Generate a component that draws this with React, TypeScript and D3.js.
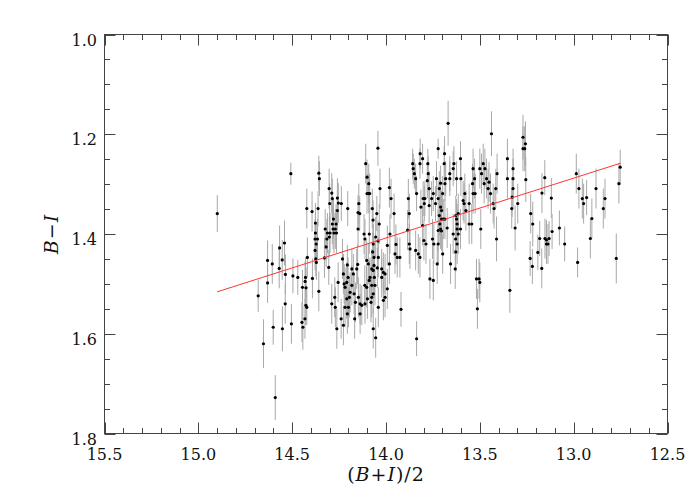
import React from "react";
import * as d3 from "d3";

// [ (B+I)/2 , B-I , error ]
const stars: [number, number, number][] = [
  [14.899, 1.359, 0.037], [14.653, 1.62, 0.049], [14.59, 1.728, 0.045], [14.681, 1.524, 0.032],
  [14.601, 1.587, 0.035], [14.631, 1.453, 0.04], [14.631, 1.498, 0.04], [14.606, 1.46, 0.04],
  [14.567, 1.428, 0.045], [14.569, 1.469, 0.04], [14.553, 1.452, 0.04], [14.541, 1.418, 0.045],
  [14.536, 1.481, 0.04], [14.496, 1.484, 0.035], [14.47, 1.487, 0.035], [14.419, 1.447, 0.04],
  [14.374, 1.45, 0.035], [14.371, 1.457, 0.035], [14.328, 1.448, 0.04], [14.305, 1.467, 0.035],
  [14.429, 1.487, 0.04], [14.431, 1.495, 0.04], [14.426, 1.508, 0.04], [14.445, 1.507, 0.035],
  [14.427, 1.543, 0.04], [14.422, 1.547, 0.035], [14.432, 1.57, 0.04], [14.448, 1.577, 0.04],
  [14.443, 1.587, 0.045], [14.392, 1.489, 0.04], [14.358, 1.515, 0.04], [14.537, 1.54, 0.04],
  [14.504, 1.58, 0.04], [14.552, 1.59, 0.045],
  [14.507, 1.279, 0.022], [14.358, 1.278, 0.035], [14.355, 1.289, 0.035], [14.108, 1.259, 0.04],
  [14.043, 1.228, 0.035],
  [14.101, 1.286, 0.035], [14.303, 1.309, 0.04], [14.289, 1.318, 0.04], [14.3, 1.339, 0.04],
  [14.286, 1.329, 0.04], [14.254, 1.338, 0.04], [14.238, 1.339, 0.035], [14.259, 1.328, 0.04],
  [14.422, 1.349, 0.04], [14.394, 1.355, 0.04], [14.362, 1.349, 0.035], [14.204, 1.349, 0.035],
  [14.145, 1.339, 0.04], [14.149, 1.357, 0.035], [14.14, 1.359, 0.035], [14.101, 1.319, 0.04],
  [14.092, 1.319, 0.04], [14.087, 1.319, 0.04], [14.092, 1.299, 0.04], [14.069, 1.372, 0.04],
  [14.049, 1.359, 0.035], [14.376, 1.378, 0.04], [14.376, 1.398, 0.04], [14.378, 1.41, 0.04],
  [14.365, 1.41, 0.04], [14.372, 1.42, 0.04], [14.378, 1.433, 0.04], [14.324, 1.39, 0.04],
  [14.312, 1.398, 0.04], [14.298, 1.398, 0.04], [14.315, 1.41, 0.04], [14.319, 1.426, 0.04],
  [14.302, 1.406, 0.04], [14.286, 1.38, 0.04], [14.266, 1.38, 0.04], [14.282, 1.39, 0.04],
  [14.27, 1.39, 0.04], [14.264, 1.398, 0.04], [14.277, 1.398, 0.04], [14.28, 1.37, 0.04],
  [14.259, 1.353, 0.04], [14.149, 1.39, 0.035], [14.117, 1.4, 0.04], [14.112, 1.41, 0.04],
  [14.089, 1.4, 0.04], [14.068, 1.42, 0.04], [14.043, 1.414, 0.04], [14.289, 1.54, 0.04],
  [14.273, 1.527, 0.04], [14.27, 1.547, 0.04], [14.255, 1.497, 0.04], [14.239, 1.57, 0.04],
  [14.227, 1.583, 0.04], [14.262, 1.59, 0.04], [14.232, 1.45, 0.04], [14.227, 1.48, 0.04],
  [14.223, 1.5, 0.04], [14.218, 1.507, 0.04], [14.209, 1.53, 0.04], [14.2, 1.547, 0.04],
  [14.206, 1.56, 0.04], [14.218, 1.547, 0.04], [14.206, 1.462, 0.04], [14.182, 1.47, 0.04],
  [14.174, 1.48, 0.04], [14.156, 1.47, 0.04], [14.151, 1.461, 0.04], [14.202, 1.487, 0.04],
  [14.209, 1.497, 0.04], [14.182, 1.503, 0.04], [14.191, 1.517, 0.04], [14.195, 1.527, 0.04],
  [14.17, 1.52, 0.04], [14.163, 1.537, 0.04], [14.147, 1.527, 0.04], [14.138, 1.54, 0.04],
  [14.167, 1.57, 0.04], [14.138, 1.56, 0.04], [14.129, 1.543, 0.04], [14.112, 1.54, 0.04],
  [14.099, 1.53, 0.04], [14.103, 1.507, 0.04], [14.113, 1.503, 0.04], [14.089, 1.493, 0.04],
  [14.076, 1.503, 0.04], [14.085, 1.487, 0.04], [14.068, 1.473, 0.04], [14.064, 1.463, 0.04],
  [14.046, 1.468, 0.04], [14.041, 1.447, 0.04], [14.094, 1.46, 0.04], [14.103, 1.453, 0.04],
  [14.064, 1.447, 0.04], [14.071, 1.436, 0.04], [14.068, 1.52, 0.04], [14.076, 1.527, 0.04],
  [14.068, 1.59, 0.04], [14.055, 1.608, 0.04],
  [13.669, 1.178, 0.045], [13.438, 1.199, 0.045], [13.722, 1.229, 0.02], [13.818, 1.239, 0.03],
  [13.805, 1.249, 0.03], [13.819, 1.259, 0.03], [13.858, 1.259, 0.03], [13.855, 1.269, 0.03],
  [13.849, 1.279, 0.03], [13.842, 1.289, 0.03], [13.777, 1.259, 0.03], [13.775, 1.279, 0.035],
  [13.77, 1.309, 0.035], [13.78, 1.293, 0.035], [13.688, 1.239, 0.035], [13.69, 1.259, 0.035],
  [13.682, 1.289, 0.035], [13.66, 1.279, 0.035], [13.66, 1.289, 0.035], [13.638, 1.259, 0.035],
  [13.642, 1.269, 0.035], [13.624, 1.289, 0.035], [13.601, 1.289, 0.035], [13.603, 1.249, 0.035],
  [13.686, 1.299, 0.035], [13.709, 1.298, 0.035], [13.731, 1.289, 0.035], [13.716, 1.309, 0.035],
  [13.698, 1.319, 0.035], [13.748, 1.319, 0.035], [13.722, 1.329, 0.035], [13.736, 1.339, 0.035],
  [13.709, 1.346, 0.035], [13.802, 1.329, 0.035], [13.793, 1.329, 0.035], [13.837, 1.319, 0.035],
  [13.796, 1.339, 0.035], [13.814, 1.346, 0.035], [13.77, 1.343, 0.035], [13.757, 1.329, 0.035],
  [13.881, 1.329, 0.04], [13.876, 1.359, 0.04], [13.885, 1.392, 0.04], [13.876, 1.42, 0.04],
  [13.872, 1.43, 0.04], [13.842, 1.433, 0.04], [13.828, 1.44, 0.04], [13.819, 1.447, 0.04],
  [13.805, 1.383, 0.04], [13.798, 1.413, 0.04], [13.787, 1.42, 0.04], [13.752, 1.41, 0.04],
  [13.745, 1.42, 0.04], [13.722, 1.42, 0.04], [13.698, 1.44, 0.04], [13.727, 1.46, 0.04],
  [13.766, 1.49, 0.04], [13.748, 1.493, 0.04], [13.704, 1.37, 0.04], [13.695, 1.37, 0.04],
  [13.686, 1.37, 0.04], [13.709, 1.39, 0.04], [13.722, 1.393, 0.04], [13.704, 1.394, 0.04],
  [13.674, 1.388, 0.04], [13.713, 1.38, 0.04], [13.704, 1.353, 0.04], [13.716, 1.363, 0.04],
  [13.656, 1.46, 0.04], [13.631, 1.47, 0.04], [13.628, 1.436, 0.04], [13.621, 1.42, 0.04],
  [13.629, 1.41, 0.04], [13.642, 1.4, 0.04], [13.621, 1.38, 0.04], [13.628, 1.363, 0.04],
  [13.615, 1.359, 0.04], [13.621, 1.39, 0.04], [13.603, 1.39, 0.04], [13.615, 1.4, 0.04],
  [13.624, 1.37, 0.04], [13.589, 1.333, 0.04], [13.584, 1.339, 0.04], [13.58, 1.319, 0.04],
  [13.557, 1.339, 0.04], [13.557, 1.38, 0.04], [13.543, 1.38, 0.04], [13.574, 1.353, 0.04],
  [13.536, 1.319, 0.04], [13.525, 1.319, 0.04], [13.539, 1.299, 0.04], [13.528, 1.289, 0.04],
  [13.536, 1.269, 0.04], [13.495, 1.39, 0.04], [13.5, 1.269, 0.04], [13.491, 1.279, 0.04],
  [13.482, 1.259, 0.04], [13.473, 1.269, 0.04], [13.464, 1.289, 0.04], [13.477, 1.299, 0.04],
  [13.456, 1.309, 0.04], [13.451, 1.296, 0.04], [13.443, 1.319, 0.04], [13.415, 1.309, 0.04],
  [13.408, 1.279, 0.04], [13.429, 1.339, 0.04], [13.424, 1.349, 0.04], [13.411, 1.41, 0.045],
  [13.353, 1.249, 0.04], [13.353, 1.289, 0.04], [13.323, 1.269, 0.04], [13.323, 1.289, 0.04],
  [13.323, 1.309, 0.04], [13.328, 1.326, 0.04], [13.33, 1.349, 0.04], [13.298, 1.339, 0.04],
  [13.312, 1.388, 0.045], [13.518, 1.49, 0.04], [13.504, 1.49, 0.04], [13.5, 1.497, 0.04],
  [13.513, 1.55, 0.04], [13.34, 1.513, 0.045], [13.92, 1.551, 0.035], [13.837, 1.61, 0.035],
  [14.032, 1.309, 0.04], [13.973, 1.329, 0.04], [13.957, 1.359, 0.04], [13.982, 1.307, 0.04],
  [14.073, 1.349, 0.04], [14.036, 1.38, 0.04], [14.055, 1.406, 0.04], [13.993, 1.423, 0.04],
  [13.979, 1.4, 0.04], [13.947, 1.421, 0.04], [13.952, 1.44, 0.04], [13.94, 1.447, 0.04],
  [13.926, 1.447, 0.04], [13.982, 1.46, 0.04], [13.993, 1.51, 0.04], [14.005, 1.527, 0.04],
  [14.014, 1.533, 0.04], [14.041, 1.547, 0.04], [14.08, 1.537, 0.04], [14.059, 1.503, 0.04],
  [14.076, 1.47, 0.04], [14.023, 1.47, 0.04], [14.014, 1.477, 0.04], [14.005, 1.48, 0.04],
  [14.023, 1.487, 0.04], [14.062, 1.487, 0.04],
  [13.27, 1.206, 0.045], [13.27, 1.229, 0.045], [13.261, 1.229, 0.045], [13.257, 1.219, 0.045],
  [13.255, 1.291, 0.045], [13.229, 1.359, 0.04], [13.218, 1.38, 0.045], [13.232, 1.449, 0.035],
  [13.22, 1.465, 0.035], [13.169, 1.318, 0.04], [13.154, 1.287, 0.035], [13.119, 1.328, 0.04],
  [13.115, 1.395, 0.035], [13.191, 1.437, 0.035], [13.181, 1.409, 0.035], [13.17, 1.469, 0.04],
  [13.153, 1.409, 0.04], [13.145, 1.412, 0.04], [13.145, 1.42, 0.04], [13.137, 1.42, 0.04],
  [13.131, 1.409, 0.035], [13.076, 1.388, 0.035], [13.048, 1.42, 0.035], [12.986, 1.279, 0.04],
  [12.979, 1.457, 0.03], [12.972, 1.309, 0.04], [12.954, 1.329, 0.04], [12.947, 1.339, 0.04],
  [12.931, 1.327, 0.035], [12.881, 1.309, 0.04], [12.903, 1.369, 0.04], [12.911, 1.409, 0.04],
  [12.842, 1.349, 0.04], [12.833, 1.329, 0.04], [12.773, 1.449, 0.05], [12.759, 1.299, 0.04],
  [12.752, 1.266, 0.035],
];

const fitX = [14.9, 12.75];
const fitY = [1.516, 1.258];

const xMajor = [15.5, 15.0, 14.5, 14.0, 13.5, 13.0, 12.5];
const xLabels = ["15.5", "15.0", "14.5", "14.0", "13.5", "13.0", "12.5"];
const yMajor = [1.0, 1.2, 1.4, 1.6, 1.8];
const yLabels = ["1.0", "1.2", "1.4", "1.6", "1.8"];
const xMinorStep = 0.1;
const yMinorStep = 0.05;

export default function App() {
  const L = 104.5, R = 667.5, T = 34.5, B = 433.5;
  const x = d3.scaleLinear().domain([15.5, 12.5]).range([L, R]);
  const y = d3.scaleLinear().domain([1.0, 1.8]).range([T, B]);
  const xMinor = d3.range(0, 31).map((i) => 15.5 - i * xMinorStep);
  const yMinor = d3.range(0, 17).map((i) => 1.0 + i * yMinorStep);
  const isMajorX = (v: number) => xMajor.some((m) => Math.abs(m - v) < 1e-6);
  const isMajorY = (v: number) => yMajor.some((m) => Math.abs(m - v) < 1e-6);
  const axisColor = "#444";
  const font = "'DejaVu Serif', serif";
  const line = d3.line<number>().x((_, i) => x(fitX[i])).y((_, i) => y(fitY[i]));

  return (
    <svg width={700} height={500} style={{ position: "absolute", left: 0, top: 0, background: "#fff" }}>
      <rect x={0} y={0} width={700} height={500} fill="#fff" />
      {/* error bars */}
      <g stroke="#a8a8a8" strokeWidth={1}>
        {stars.map((d, i) => (
          <line key={i} x1={x(d[0])} x2={x(d[0])} y1={y(d[1] - d[2])} y2={y(d[1] + d[2])} />
        ))}
      </g>
      {/* points */}
      <g fill="#000">
        {stars.map((d, i) => (
          <circle key={i} cx={x(d[0])} cy={y(d[1])} r={1.6} />
        ))}
      </g>
      {/* fit line */}
      <path d={line(fitX) || ""} stroke="#ff3333" strokeWidth={1} fill="none" />
      {/* frame */}
      <rect x={L} y={T} width={R - L} height={B - T} fill="none" stroke={axisColor} strokeWidth={1} />
      {/* ticks */}
      <g stroke={axisColor} strokeWidth={1}>
        {xMinor.map((v, i) => {
          const len = isMajorX(v) ? 11 : 5.5;
          const px = Math.round(x(v)) + 0.5;
          return (
            <g key={i}>
              <line x1={px} x2={px} y1={B} y2={B - len} />
              <line x1={px} x2={px} y1={T} y2={T + len} />
            </g>
          );
        })}
        {yMinor.map((v, i) => {
          const len = isMajorY(v) ? 11 : 5.5;
          const py = Math.round(y(v)) + 0.5;
          return (
            <g key={i}>
              <line x1={L} x2={L + len} y1={py} y2={py} />
              <line x1={R} x2={R - len} y1={py} y2={py} />
            </g>
          );
        })}
      </g>
      {/* tick labels */}
      <g fontFamily={font} fontSize={16} fill="#111">
        {xMajor.map((v, i) => (
          <text key={i} x={x(v)} y={460} textAnchor="middle">{xLabels[i]}</text>
        ))}
        {yMajor.map((v, i) => (
          <text key={i} x={97} y={y(v) + 11} textAnchor="end">{yLabels[i]}</text>
        ))}
      </g>
      {/* axis titles */}
      <text x={(L + R) / 2} y={481} textAnchor="middle" fontFamily={font} fontSize={19} letterSpacing={1} fill="#111">
        (<tspan fontStyle="italic">B</tspan>+<tspan fontStyle="italic">I</tspan>)/2
      </text>
      <text
        transform={`translate(58, ${(T + B) / 2}) rotate(-90)`}
        textAnchor="middle"
        fontFamily={font}
        fontSize={19}
        letterSpacing={1}
        fill="#111"
      >
        <tspan fontStyle="italic">B</tspan>−<tspan fontStyle="italic">I</tspan>
      </text>
    </svg>
  );
}
